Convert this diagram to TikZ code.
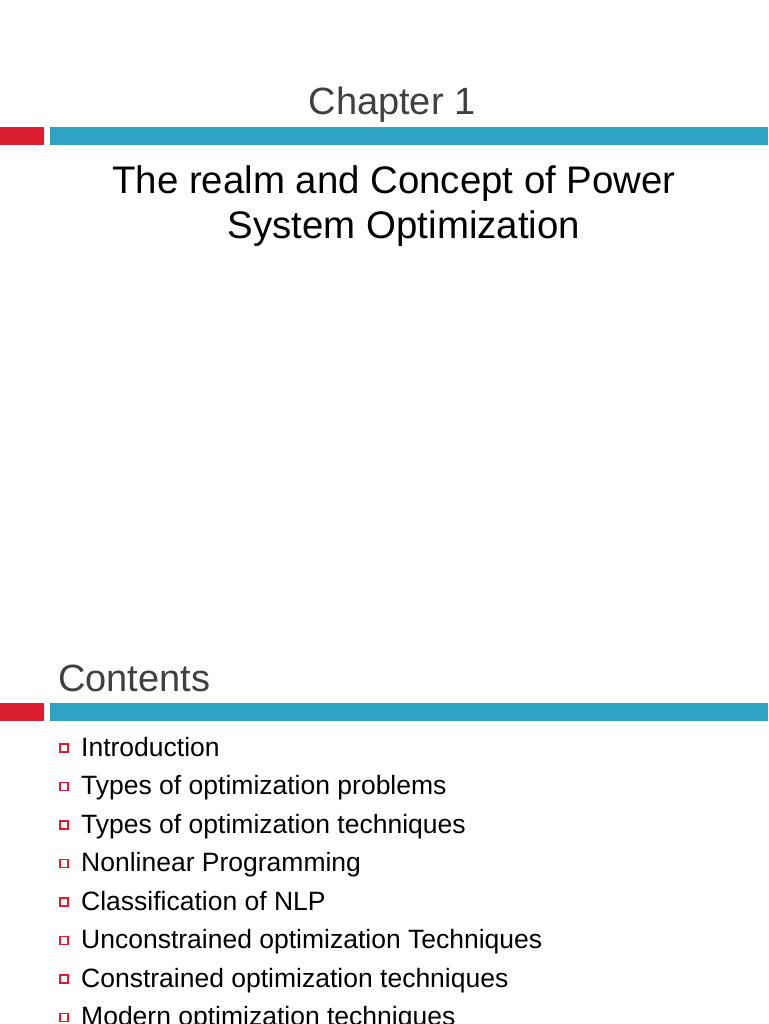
\documentclass[tikz,border=0pt]{standalone}
\usepackage{fontspec}
\setmainfont{Liberation Sans}
\definecolor{barred}{HTML}{DC1F30}
\definecolor{barblue}{HTML}{2EA3C3}
\definecolor{headgray}{HTML}{404040}
\begin{document}
\begin{tikzpicture}[x=1pt,y=-1pt,
  head/.style={font=\fontsize{38}{44}\selectfont,text=headgray,inner sep=0,anchor=base},
  item/.style={font=\fontsize{26.5}{31}\selectfont,inner sep=0,anchor=base west},
  bul/.style={draw=barred,line width=1.3pt,minimum size=8pt,inner sep=0}]
\useasboundingbox[fill=white] (0,0) rectangle (768,1024);
\node[head] (ch) at (392,115) {Chapter 1};
\fill[barred] (0,127) rectangle (44,145);
\fill[barblue] (50,127) rectangle (768,145);
\node[head,text=black,font=\fontsize{38.4}{44}\selectfont] (t1) at (394,194) {The realm and Concept of Power};
\node[head,text=black,font=\fontsize{38.4}{44}\selectfont] (t2) at (404,239) {System Optimization};
\node[head,anchor=base west] (ct) at (58,691) {Contents};
\fill[barred] (0,703) rectangle (44,721);
\fill[barblue] (50,703) rectangle (768,721);
\foreach \t [count=\i] in {Introduction,Types of optimization problems,Types of optimization techniques,Nonlinear Programming,Classification of NLP,Unconstrained optimization Techniques,Constrained optimization techniques,Modern optimization techniques}{
  \pgfmathsetmacro\yy{756+38.5*(\i-1)}
  \node[bul] (b\i) at (64,\yy-8) {};
  \node[item] (i\i) at (81,\yy) {\t};
}
\end{tikzpicture}
\end{document}
